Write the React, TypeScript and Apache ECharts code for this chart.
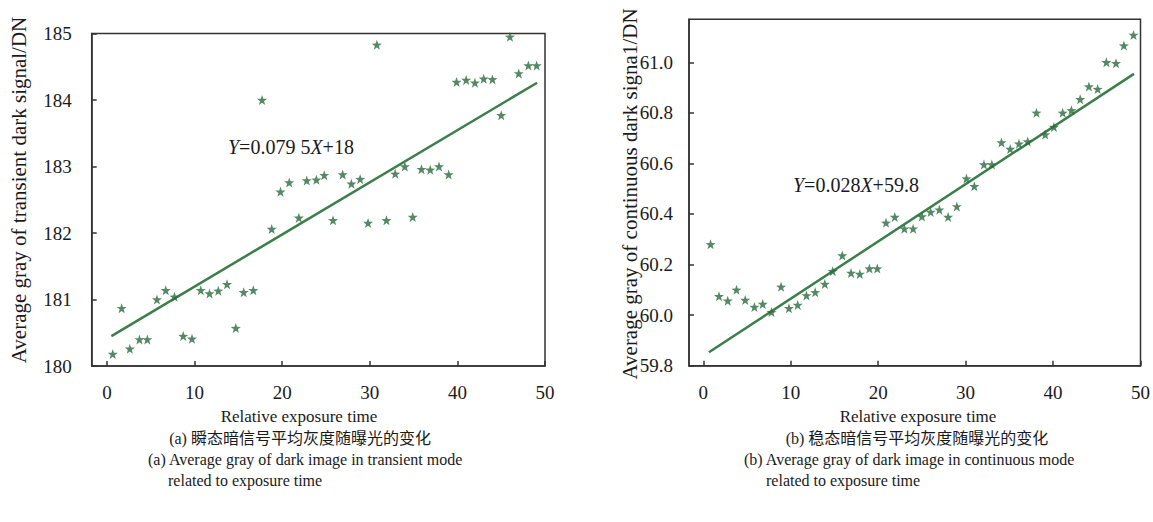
import React, { useEffect, useRef } from "react";
import * as echarts from "echarts";

const leftX = [0.65, 1.67, 2.6, 3.7, 4.6, 5.7, 6.7, 7.7, 8.7, 9.7, 10.7, 11.7, 12.7, 13.7, 14.7, 15.6, 16.7, 17.7, 18.8, 19.8, 20.8, 21.9, 22.8, 23.9, 24.8, 25.8, 26.9, 27.9, 28.9, 29.8, 30.8, 31.9, 32.9, 34.0, 34.9, 35.9, 36.9, 37.9, 39.0, 39.9, 41.0, 42.0, 43.0, 44.0, 45.0, 46.0, 47.0, 48.1, 49.05];
const leftY = [180.18, 180.87, 180.26, 180.4, 180.4, 181.0, 181.14, 181.04, 180.45, 180.41, 181.14, 181.09, 181.13, 181.23, 180.57, 181.11, 181.14, 184.0, 182.06, 182.62, 182.76, 182.23, 182.79, 182.8, 182.87, 182.19, 182.88, 182.74, 182.81, 182.15, 184.83, 182.19, 182.89, 183.0, 182.24, 182.96, 182.95, 183.0, 182.88, 184.27, 184.3, 184.26, 184.32, 184.31, 183.77, 184.95, 184.4, 184.52, 184.52];
const leftFit = [[0.5, 180.45], [49.1, 184.26]];

const rightX = [0.84, 1.8, 2.8, 3.8, 4.8, 5.85, 6.8, 7.8, 8.9, 9.8, 10.8, 11.8, 12.8, 13.9, 14.8, 15.9, 16.9, 17.9, 19.0, 19.9, 20.9, 21.9, 23.0, 24.0, 25.0, 26.0, 27.0, 28.0, 29.0, 30.1, 31.0, 32.1, 33.0, 34.1, 35.1, 36.1, 37.1, 38.1, 39.1, 40.1, 41.1, 42.1, 43.1, 44.1, 45.1, 46.1, 47.2, 48.1, 49.2];
const rightY = [60.28, 60.075, 60.057, 60.1, 60.06, 60.032, 60.044, 60.012, 60.112, 60.027, 60.04, 60.078, 60.09, 60.123, 60.174, 60.236, 60.167, 60.163, 60.184, 60.184, 60.365, 60.388, 60.342, 60.342, 60.39, 60.408, 60.417, 60.388, 60.43, 60.54, 60.51, 60.596, 60.596, 60.683, 60.657, 60.678, 60.687, 60.8, 60.714, 60.744, 60.8, 60.81, 60.854, 60.904, 60.894, 61.0, 60.996, 61.066, 61.108];
const rightFit = [[0.65, 59.853], [49.25, 60.954]];

const xAxisName = "Relative exposure time";
const leftYName = "Average gray of transient dark signal/DN";
const rightYName = "Average gray of continuous dark signa1/DN";
const leftEq = "{i|Y}=0.079 5{i|X}+18";
const rightEq = "{i|Y}=0.028{i|X}+59.8";
const captionsA = ["(a) 瞬态暗信号平均灰度随曝光的变化", "(a) Average gray of dark image in transient mode", "related to exposure time"];
const captionsB = ["(b) 稳态暗信号平均灰度随曝光的变化", "(b) Average gray of dark image in continuous mode", "related to exposure time"];

const FONT = "Liberation Serif, Times New Roman, Noto Sans CJK SC, serif";
const TEXT_COLOR = "#1a1a1a";
const AXIS_COLOR = "#333";
const LINE_COLOR = "#3c7f4b";
const STAR_COLOR = "#2b6a3d";
const STAR = "path://M0,-10 L2.35,-3.24 L9.51,-3.09 L3.8,1.24 L5.88,8.09 L0,4 L-5.88,8.09 L-3.8,1.24 L-9.51,-3.09 L-2.35,-3.24 Z";

function zip(xs: number[], ys: number[]) {
  return xs.map((x, i) => [x, ys[i]]);
}

export default function App() {
  const ref = useRef<HTMLDivElement>(null);
  useEffect(() => {
    if (!ref.current) return;
    const chart = echarts.init(ref.current, undefined, { renderer: "svg" });
    const lineStyle = { color: AXIS_COLOR, width: 1.5 };
    const richLabel = { s: { fontFamily: FONT, fontSize: 19, color: TEXT_COLOR } };
    const labelStyle = { fontFamily: FONT, fontSize: 19, color: TEXT_COLOR, rich: richLabel };
    const xAxisBase = (gridIndex: number, min: number) => ({
      type: "value",
      gridIndex,
      min,
      max: 50,
      splitNumber: 5,
      axisLine: { show: true, onZero: false, lineStyle },
      axisTick: { show: true, inside: true, length: 5, lineStyle },
      axisLabel: { ...labelStyle, showMinLabel: false, margin: 17, formatter: (v: number) => `{s|${v}}` },
      splitLine: { show: false },
    });
    const gridBox = { show: true, borderColor: AXIS_COLOR, borderWidth: 1.5, backgroundColor: "transparent" };
    const txt = (x: number, y: number, text: string, size: number, align: string, extra: any = {}) => ({
      type: "text",
      x,
      y,
      ...extra,
      style: { text, fontFamily: FONT, fontSize: size, fill: TEXT_COLOR, align, verticalAlign: "middle", ...(extra.style || {}) },
    });
    const rich = { i: { fontStyle: "italic", fontSize: 20, fontFamily: FONT, fill: TEXT_COLOR } };
    chart.setOption({
      animation: false,
      backgroundColor: "#fff",
      textStyle: { fontFamily: FONT },
      grid: [
        { ...gridBox, left: 91.7, top: 33.5, width: 453.3, height: 332.5 },
        { ...gridBox, left: 689, top: 19.3, width: 453.3, height: 346.4 },
      ],
      xAxis: [xAxisBase(0, -1.75), xAxisBase(1, -1.63)],
      yAxis: [
        {
          type: "value",
          gridIndex: 0,
          min: 180,
          max: 185,
          interval: 1,
          axisLine: { show: true, onZero: false, lineStyle },
          axisTick: { show: true, inside: true, length: 5, lineStyle },
          axisLabel: { ...labelStyle, margin: 20, formatter: (v: number) => `{s|${v}}` },
          splitLine: { show: false },
        },
        {
          type: "value",
          gridIndex: 1,
          min: 59.8,
          max: 61.17,
          interval: 0.2,
          axisLine: { show: true, onZero: false, lineStyle },
          axisTick: { show: true, inside: true, length: 5, lineStyle },
          axisLabel: {
            ...labelStyle,
            showMaxLabel: false,
            margin: 16,
            formatter: (v: number) => `{s|${v.toFixed(1)}}`,
          },
          splitLine: { show: false },
        },
      ],
      series: [
        {
          type: "line",
          xAxisIndex: 0,
          yAxisIndex: 0,
          data: leftFit,
          symbol: "none",
          lineStyle: { color: LINE_COLOR, width: 2.5 },
          z: 2,
        },
        {
          type: "scatter",
          xAxisIndex: 0,
          yAxisIndex: 0,
          data: zip(leftX, leftY),
          symbol: STAR,
          symbolSize: 10,
          itemStyle: { color: STAR_COLOR },
          z: 3,
        },
        {
          type: "line",
          xAxisIndex: 1,
          yAxisIndex: 1,
          data: rightFit,
          symbol: "none",
          lineStyle: { color: LINE_COLOR, width: 2.5 },
          z: 2,
        },
        {
          type: "scatter",
          xAxisIndex: 1,
          yAxisIndex: 1,
          data: zip(rightX, rightY),
          symbol: STAR,
          symbolSize: 10,
          itemStyle: { color: STAR_COLOR },
          z: 3,
        },
      ],
      graphic: [
        txt(19, 190, leftYName, 21, "center", { rotation: Math.PI / 2 }),
        txt(630, 194, rightYName, 21, "center", { rotation: Math.PI / 2 }),
        txt(299, 416, xAxisName, 17, "center"),
        txt(918, 416, xAxisName, 17, "center"),
        txt(228, 147, leftEq, 20, "left", { style: { rich } }),
        txt(793, 185, rightEq, 20, "left", { style: { rich } }),
        txt(300, 438, captionsA[0], 16, "center"),
        txt(148, 459, captionsA[1], 16, "left"),
        txt(168, 480, captionsA[2], 16, "left"),
        txt(917, 438, captionsB[0], 16, "center"),
        txt(744, 459, captionsB[1], 16, "left"),
        txt(766, 480, captionsB[2], 16, "left"),
      ],
    });
    return () => chart.dispose();
  }, []);
  return (
    <div
      ref={ref}
      style={{ position: "absolute", left: 0, top: 0, width: 1153, height: 522, background: "#fff" }}
    />
  );
}
